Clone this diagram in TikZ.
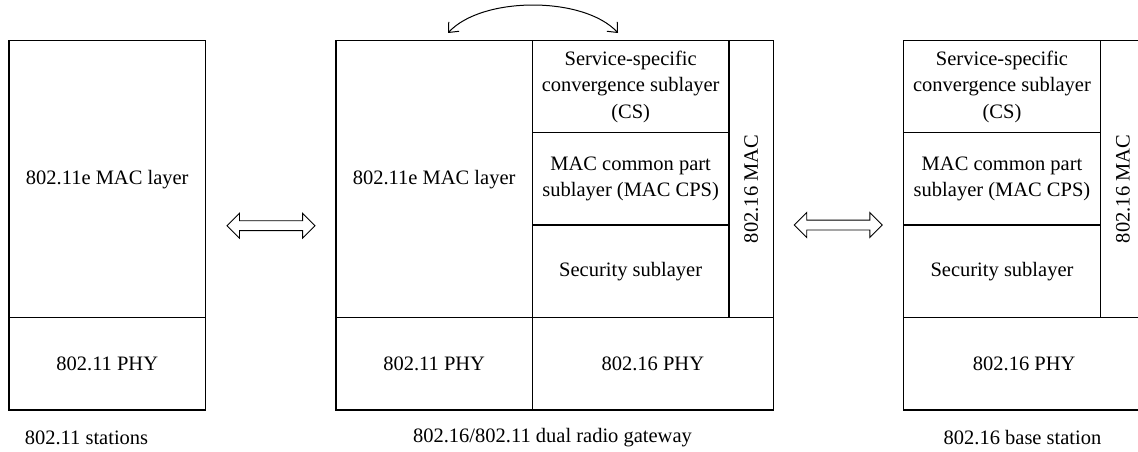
\documentclass[tikz,border=0pt]{standalone}
\usepackage{fontspec}
\setmainfont{Liberation Serif}
\usetikzlibrary{arrows.meta,shapes.arrows}
\tikzset{
  cell/.style={draw, line width=1.1pt, rectangle, inner sep=0pt, align=center,
    font=\fontsize{20.5}{26.5}\selectfont},
  txt/.style={inner sep=0pt, align=center, font=\fontsize{20.5}{26.5}\selectfont},
  dbl/.style={double arrow, draw, line width=0.9pt, inner sep=0pt,
    minimum height=88pt,
    double arrow head extend=7.5pt, double arrow tip angle=90},
  swing/.style={line width=1pt, {Straight Barb[length=8pt,width=14pt]}-{Straight Barb[length=8pt,width=14pt]}}
}
\newcommand{\shaftstrut}{\vrule width 0pt height 4.5pt depth 4.5pt}
\begin{document}
\begin{tikzpicture}[x=1pt,y=-1pt]
\useasboundingbox (0,0) rectangle (1138,452);
% left station
\node[cell, minimum width=196.5pt, minimum height=277pt] (lmac) at (107.25,179.2) {802.11e MAC layer};
\node[cell, minimum width=196.5pt, minimum height=92.3pt] (lphy) at (107.25,363.85) {802.11 PHY};
% gateway
\node[cell, minimum width=196.3pt, minimum height=277pt] (gmac11) at (434.15,179.2) {802.11e MAC layer};
\node[cell, minimum width=196.7pt, minimum height=92pt] (gcs) at (630.65,86.7) {Service-specific\\convergence sublayer\\(CS)};
\node[cell, minimum width=196.7pt, minimum height=92.3pt] (gcps) at (630.65,178.85) {MAC common part\\sublayer (MAC CPS)};
\node[cell, minimum width=196.7pt, minimum height=92.7pt] (gsec) at (630.65,271.35) {Security sublayer};
\node[cell, minimum width=44.3pt, minimum height=277pt] (gcol) at (751.15,179.2) {};
\node[txt, rotate=90] (gcoltxt) at (751.15,189) {802.16 MAC};
\node[cell, minimum width=196.3pt, minimum height=92.3pt] (gphy11) at (434.15,363.85) {802.11 PHY};
\node[cell, minimum width=241pt, minimum height=92.3pt] (gphy16) at (652.8,363.85) {802.16 PHY};
% base station
\node[cell, minimum width=197.4pt, minimum height=92pt] (bcs) at (1002,86.7) {Service-specific\\convergence sublayer\\(CS)};
\node[cell, minimum width=197.4pt, minimum height=92.3pt] (bcps) at (1002,178.85) {MAC common part\\sublayer (MAC CPS)};
\node[cell, minimum width=197.4pt, minimum height=92.7pt] (bsec) at (1002,271.35) {Security sublayer};
\node[cell, minimum width=44.3pt, minimum height=277pt] (bcol) at (1122.85,179.2) {};
\node[txt, rotate=90] (bcoltxt) at (1122.85,189) {802.16 MAC};
\node[cell, minimum width=241.7pt, minimum height=92.3pt] (bphy) at (1024.15,363.85) {802.16 PHY};
% captions
\node[txt] (cap1) at (86.5,438) {802.11 stations};
\node[txt] (cap2) at (552.5,438) {802.16/802.11 dual radio gateway};
\node[txt] (cap3) at (1022.5,438) {802.16 base station};
% double arrows
\node[dbl] (dl) at (271,225.7) {\shaftstrut};
\node[dbl] (dr) at (838.3,225) {\shaftstrut};
% swing arrow
\coordinate (arcL) at (448,33);
\coordinate (arcR) at (618,33);
\draw[swing] (arcL) .. controls (482,-4) and (584,-4) .. (arcR);
\end{tikzpicture}
\end{document}
